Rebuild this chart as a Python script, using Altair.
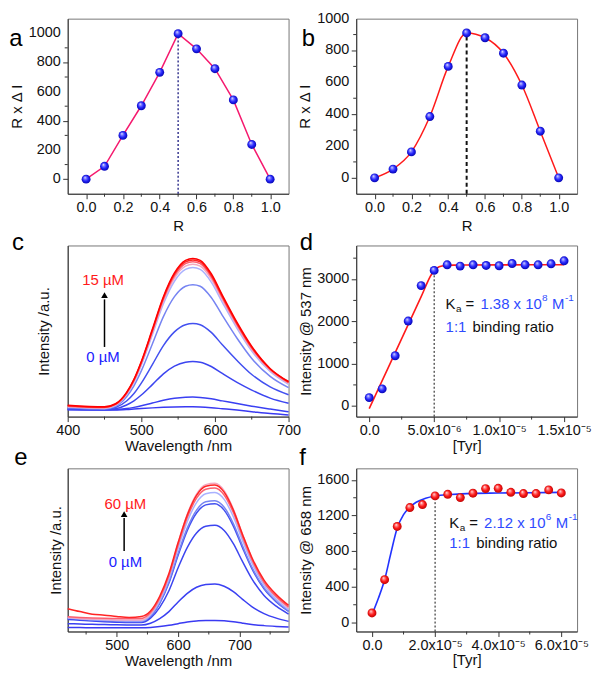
import altair as alt
import pandas as pd

FONT = "Arial"

# ---------------- data ----------------
R_VALUES = [0.0, 0.1, 0.2, 0.3, 0.4, 0.5, 0.6, 0.7, 0.8, 0.9, 1.0]
A_RDI = [0, 88, 300, 503, 732, 997, 893, 757, 543, 238, 0]
B_RDI = [0, 55, 163, 385, 700, 910, 880, 783, 583, 293, 0]

C_WL = [400, 450, 465, 480, 490, 500, 515, 530, 545, 560, 570, 580, 595, 610, 630, 650, 675, 700]
C_CURVES = [
    [4.0, 3.8, 3.9, 4.1, 4.4, 4.7, 5.1, 5.4, 5.6, 5.7, 5.7, 5.6, 5.2, 4.6, 3.8, 2.9, 1.8, 1.0],
    [4.1, 4.0, 4.2, 4.7, 5.4, 6.3, 7.9, 9.5, 10.7, 11.3, 11.4, 11.2, 10.4, 9.2, 7.6, 6.1, 4.4, 2.8],
    [4.3, 4.0, 4.6, 6.8, 9.2, 12.6, 18.7, 25.0, 29.5, 31.8, 32.2, 31.8, 29.3, 25.2, 20.0, 15.5, 10.8, 7.8],
    [4.7, 4.2, 5.3, 9.1, 13.5, 19.6, 30.4, 41.5, 49.5, 53.7, 54.4, 53.7, 49.2, 42.0, 32.8, 24.6, 17.4, 12.8],
    [5.2, 4.5, 6.0, 11.6, 18.0, 26.7, 42.4, 58.4, 70.1, 76.2, 77.1, 76.2, 69.6, 59.2, 45.8, 34.0, 23.5, 16.9],
    [5.6, 4.8, 6.5, 12.9, 20.1, 30.0, 47.8, 65.9, 79.1, 86.0, 87.1, 86.0, 78.6, 66.8, 51.6, 38.3, 26.4, 18.9],
    [5.8, 5.0, 6.8, 13.2, 20.6, 30.7, 48.8, 67.4, 80.9, 87.9, 89.0, 87.9, 80.3, 68.3, 52.8, 39.2, 27.0, 19.4],
    [6.1, 5.3, 7.1, 13.6, 21.1, 31.4, 49.8, 68.6, 82.2, 89.4, 90.5, 89.4, 81.7, 69.5, 53.8, 40.0, 27.6, 19.9],
    [6.4, 5.5, 7.3, 13.9, 21.5, 31.8, 50.4, 69.4, 83.2, 90.4, 91.5, 90.4, 82.6, 70.3, 54.4, 40.5, 28.0, 20.2],
    [6.6, 5.7, 7.5, 14.2, 21.8, 32.2, 51.0, 70.1, 84.0, 91.3, 92.4, 91.3, 83.5, 71.0, 55.0, 41.0, 28.0, 20.5],
]
C_COLORS = ["#3a3af2", "#3a40f2", "#3c45f0", "#4250f0", "#7684f2", "#aab2ff",
            "#f4a8c0", "#fb6070", "#ff2424", "#ff0000"]
C_WIDTHS = [1.5, 1.5, 1.5, 1.5, 1.5, 1.5, 1.8, 1.8, 2.0, 2.2]

E_WL = [420, 440, 460, 480, 500, 520, 540, 555, 570, 585, 600, 615, 630, 645, 660,
        675, 690, 705, 720, 740, 760, 780]
E_CURVES = [
    [2.4, 2.4, 2.3, 2.3, 2.3, 2.3, 2.3, 2.5, 3.0, 3.8, 4.8, 5.8, 6.4, 6.8, 6.8, 6.6, 6.0, 5.1, 4.3, 3.6, 3.1, 2.7],
    [4.8, 4.6, 4.4, 4.3, 4.1, 4.0, 4.0, 5.1, 7.9, 12.2, 18.1, 23.4, 27.1, 28.8, 29.1, 27.7, 24.4, 19.7, 15.3, 11.0, 8.2, 6.2],
    [7.4, 6.9, 6.4, 6.0, 5.7, 5.5, 5.5, 8.2, 14.8, 25.0, 39.1, 51.6, 60.4, 64.5, 65.1, 61.9, 53.8, 42.8, 32.4, 22.1, 15.5, 10.7],
    [8.0, 7.4, 6.9, 6.5, 6.2, 6.0, 6.0, 9.3, 17.3, 29.7, 46.7, 62.0, 72.6, 77.6, 78.3, 74.4, 64.6, 51.2, 38.7, 26.1, 18.1, 12.3],
    [8.2, 7.6, 7.1, 6.7, 6.4, 6.2, 6.2, 9.5, 17.7, 30.5, 47.9, 63.5, 74.4, 79.5, 80.2, 76.2, 66.2, 52.5, 39.6, 26.8, 18.6, 12.6],
    [8.4, 7.8, 7.3, 7.0, 6.8, 6.6, 6.6, 10.1, 18.9, 32.4, 50.9, 67.4, 79.0, 84.4, 85.2, 81.0, 70.3, 55.7, 42.1, 28.5, 19.8, 13.4],
    [8.6, 8.0, 7.6, 7.3, 7.1, 7.0, 7.0, 10.8, 20.1, 34.5, 54.2, 71.9, 84.2, 90.0, 90.8, 86.3, 75.0, 59.4, 44.9, 30.3, 21.1, 14.3],
    [9.0, 8.6, 8.3, 8.1, 8.0, 7.9, 8.0, 11.6, 20.5, 34.2, 53.0, 69.9, 81.7, 87.2, 88.0, 83.7, 72.9, 58.0, 44.2, 30.2, 21.4, 15.0],
    [14.0, 12.2, 10.6, 10.0, 9.2, 8.6, 9.2, 12.6, 21.6, 35.5, 54.5, 71.5, 83.4, 89.0, 89.8, 85.4, 74.5, 59.5, 45.5, 31.5, 22.6, 16.0],
]
E_COLORS = ["#3636f0", "#3a3af2", "#3c40f0", "#7480f0", "#8090f5", "#c8ccff",
            "#f8b4c8", "#ff5050", "#ff0000"]
E_WIDTHS = [1.5, 1.5, 1.5, 1.5, 1.5, 1.5, 2.0, 1.8, 2.4]

D_TYR = [0, 1e-6, 2e-6, 3e-6, 4e-6, 5e-6, 6e-6, 7e-6, 8e-6, 9e-6, 1e-5,
         1.1e-5, 1.2e-5, 1.3e-5, 1.4e-5, 1.5e-5]
D_INT = [200, 407, 1190, 2012, 2850, 3210, 3343, 3312, 3343, 3327, 3320,
         3374, 3343, 3343, 3366, 3437]
D_FIT_X = [0, 1e-6, 2e-6, 3e-6, 4e-6, 4.8e-6, 5.2e-6, 5.6e-6, 6.5e-6, 1e-5, 1.5e-5]
D_FIT_Y = [-60, 600, 1265, 1925, 2590, 3120, 3265, 3315, 3335, 3340, 3345]

F_TYR = [0, 4e-6, 8e-6, 1.2e-5, 1.6e-5, 2e-5, 2.4e-5, 2.8e-5, 3.2e-5, 3.6e-5,
         4e-5, 4.4e-5, 4.8e-5, 5.2e-5, 5.6e-5, 6e-5]
F_INT = [108, 481, 1078, 1290, 1324, 1421, 1439, 1402, 1451, 1503, 1506,
         1461, 1447, 1447, 1488, 1454]
F_FIT_X = [0, 2e-6, 4e-6, 6e-6, 8e-6, 1e-5, 1.2e-5, 1.4e-5, 1.7e-5, 2e-5,
           2.5e-5, 3e-5, 4e-5, 6e-5]
F_FIT_Y = [90, 270, 480, 780, 1060, 1210, 1295, 1350, 1395, 1420, 1437, 1446, 1453, 1460]

# ---------------- styling ----------------
W = 222
H1, H2, H3 = 176, 172, 164
TICK = 5
MINOR = 3
LABEL_SIZE = 14.5

BLUE_BALL = {"gradient": "radial", "x1": 0.36, "y1": 0.3, "r1": 0.0,
             "x2": 0.5, "y2": 0.5, "r2": 0.56,
             "stops": [{"offset": 0.0, "color": "#ffffff"},
                       {"offset": 0.22, "color": "#8a8aff"},
                       {"offset": 0.55, "color": "#2626ff"},
                       {"offset": 1.0, "color": "#0000a0"}]}
RED_BALL = {"gradient": "radial", "x1": 0.36, "y1": 0.3, "r1": 0.0,
            "x2": 0.5, "y2": 0.5, "r2": 0.56,
            "stops": [{"offset": 0.0, "color": "#ffffff"},
                      {"offset": 0.22, "color": "#ff8a8a"},
                      {"offset": 0.55, "color": "#ff1a1a"},
                      {"offset": 1.0, "color": "#b00000"}]}

ONE = pd.DataFrame({"k": [0]})


def xaxis(major, title, labels=None, **kw):
    extra = {}
    if labels is not None:
        eps = (max(major) - min(major)) * 1e-4
        expr = "''"
        for v, lab in reversed(list(zip(major, labels))):
            expr = f"abs(datum.value - ({v!r})) < {eps!r} ? '{lab}' : {expr}"
        extra["labelExpr"] = expr
    return alt.Axis(values=major, title=title, labelOverlap=False, labelFlush=False,
                    labelBound=False, tickSize=TICK, **extra, **kw)


def yaxis(major, title, pad):
    return alt.Axis(values=major, title=title, labels=False, tickSize=TICK, titlePadding=pad)


def ylabels(field, major, ys):
    df = pd.DataFrame({field: major, "lab": [str(v) for v in major]})
    return alt.Chart(df).mark_text(align="right", baseline="middle", fontSize=LABEL_SIZE,
                                   font=FONT, color="#111", dx=-(TICK + 2)).encode(
        y=alt.Y(f"{field}:Q", scale=ys), x=alt.value(0), text="lab:N")


def minor_x(field, vals, xs, height):
    df = pd.DataFrame({field: vals})
    return alt.Chart(df).mark_rule(color="#333", strokeWidth=1).encode(
        x=alt.X(f"{field}:Q", scale=xs), y=alt.value(height), y2=alt.value(height + MINOR))


def minor_y(field, vals, ys):
    df = pd.DataFrame({field: vals})
    return alt.Chart(df).mark_rule(color="#333", strokeWidth=1).encode(
        y=alt.Y(f"{field}:Q", scale=ys), x=alt.value(0), x2=alt.value(-MINOR))


def letter(ch, x, y):
    return alt.Chart(ONE).mark_text(text=ch, fontSize=24, font=FONT, align="center",
                                    baseline="middle", color="#000").encode(
        x=alt.value(x), y=alt.value(y))


def balls(df, x, y, xs, ys, fill):
    return alt.Chart(df).mark_point(filled=True, shape="circle", size=80, fill=fill,
                                    strokeWidth=0, opacity=1).encode(
        x=alt.X(x, scale=xs), y=alt.Y(y, scale=ys))


# ---------------- panels a, b ----------------
def job_panel(vals, line_color, interp, rule_color, rule_dash, rule_w, ydom, ch, lx, ly):
    df = pd.DataFrame({"R": R_VALUES, "v": vals})
    xs = alt.Scale(domain=[-0.1, 1.1], nice=False, zero=False)
    ys = alt.Scale(domain=ydom, nice=False, zero=False)
    ymajor = [0, 200, 400, 600, 800, 1000]
    ax = xaxis([0.0, 0.2, 0.4, 0.6, 0.8, 1.0], "R", format=".1f", titlePadding=4)
    ay = yaxis(ymajor, "R x \u0394 I", 38)
    peak = max(vals)
    rpeak = R_VALUES[vals.index(peak)]
    line = alt.Chart(df).mark_line(color=line_color, strokeWidth=1.5, interpolate=interp).encode(
        x=alt.X("R:Q", scale=xs, axis=ax), y=alt.Y("v:Q", scale=ys, axis=ay))
    rule = alt.Chart(ONE).mark_rule(color=rule_color, strokeDash=rule_dash, strokeWidth=rule_w).encode(
        x=alt.datum(rpeak), y=alt.datum(ydom[0]), y2=alt.datum(peak))
    pts = balls(df, "R:Q", "v:Q", xs, ys, BLUE_BALL)
    mx = minor_x("R", [0.1, 0.3, 0.5, 0.7, 0.9], xs, H1)
    my = minor_y("v", [100, 300, 500, 700, 900], ys)
    yl = ylabels("v", ymajor, ys)
    return alt.layer(line, mx, my, yl, rule, pts, letter(ch, lx, ly)).properties(width=W, height=H1)


pa = job_panel(A_RDI, "#f5196e", "linear", "#1a1a80", [2, 2], 1.3, [-100, 1100], "a", -52, 20)
pb = job_panel(B_RDI, "#ff1a1a", "monotone", "#111111", [4, 3], 2.0, [-100, 1000], "b", -48, 20)


# ---------------- spectra panels ----------------
def spectra_panel(wls, curves, colors, widths, xdom, xmajor, xminor, ytpad, height,
                  top_lab, arrow_x, arrow_lo, arrow_hi, top_y, bot_y, lab_x, ch, lx, ly):
    rows = []
    ids = []
    for i, cv in enumerate(curves):
        k = f"c{i:02d}"
        ids.append(k)
        for w, v in zip(wls, cv):
            rows.append({"wl": w, "I": v, "k": k})
    df = pd.DataFrame(rows)
    xs = alt.Scale(domain=xdom, nice=False, zero=False)
    ys = alt.Scale(domain=[0, 100], nice=False, zero=False)
    ax = xaxis(xmajor, "Wavelength /nm", format="d", titlePadding=2)
    ay = alt.Axis(ticks=False, labels=False, title="Intensity /a.u.", titlePadding=ytpad)
    lines = alt.Chart(df).mark_line(interpolate="monotone").encode(
        x=alt.X("wl:Q", scale=xs, axis=ax), y=alt.Y("I:Q", scale=ys, axis=ay),
        color=alt.Color("k:N", scale=alt.Scale(domain=ids, range=colors), legend=None),
        strokeWidth=alt.StrokeWidth("k:N", scale=alt.Scale(domain=ids, range=widths), legend=None))
    mx = minor_x("wl", xminor, xs, height)
    shaft = alt.Chart(ONE).mark_rule(color="#000", strokeWidth=1.5).encode(
        x=alt.datum(arrow_x), y=alt.datum(arrow_lo), y2=alt.datum(arrow_hi - 2.5))
    head = alt.Chart(ONE).mark_point(shape="triangle-up", filled=True, size=45, color="#000",
                                     opacity=1).encode(x=alt.datum(arrow_x), y=alt.datum(arrow_hi))
    t1 = alt.Chart(ONE).mark_text(text=top_lab, fontSize=15, font=FONT, color="#ff1a1a",
                                  align="center", baseline="middle").encode(
        x=alt.datum(lab_x), y=alt.datum(top_y))
    t2 = alt.Chart(ONE).mark_text(text="0 \u00b5M", fontSize=15, font=FONT, color="#2020ff",
                                  align="center", baseline="middle").encode(
        x=alt.datum(lab_x), y=alt.datum(bot_y))
    return alt.layer(lines, mx, shaft, head, t1, t2, letter(ch, lx, ly)).properties(
        width=W, height=height)


pc = spectra_panel(C_WL, C_CURVES, C_COLORS, C_WIDTHS, [400, 700], [400, 500, 600, 700],
                   [450, 550, 650], 16, H2, "15 \u00b5M", 450, 40.7, 71.0, 80.0, 35.0, 448,
                   "c", -50, -2)
pe = spectra_panel(E_WL, E_CURVES, E_COLORS, E_WIDTHS, [420, 780], [500, 600, 700],
                   [450, 550, 650, 750], 4, H3, "60 \u00b5M", 512, 49.3, 72.0, 78.3, 42.3, 514,
                   "e", -47, -10)


# ---------------- titration panels ----------------
def ka_block(x, y1, y2, mant, expo):
    blk = "#111111"
    blu = "#2e4bff"
    parts = [
        ("K", 0, 0, 15, blk),
        ("a", 10.5, 5, 10, blk),
        ("=", 20, 0, 15, blk),
        (mant, 35, 0, 15, blu),
        (expo, 97, -6, 10, blu),
        ("M", 107, 0, 15, blu),
        ("-1", 120, -6, 10, blu),
    ]
    layers = []
    for txt, dx, dy, fs, col in parts:
        layers.append(alt.Chart(ONE).mark_text(text=txt, fontSize=fs, font=FONT, color=col,
                                               align="left", baseline="middle", dx=dx, dy=dy).encode(
            x=alt.datum(x), y=alt.datum(y1)))
    layers.append(alt.Chart(ONE).mark_text(text="1:1", fontSize=15, font=FONT, color=blu,
                                           align="left", baseline="middle").encode(
        x=alt.datum(x), y=alt.datum(y2)))
    layers.append(alt.Chart(ONE).mark_text(text="binding ratio", fontSize=15, font=FONT, color=blk,
                                           align="left", baseline="middle", dx=27).encode(
        x=alt.datum(x), y=alt.datum(y2)))
    return layers


def titration_panel(tx, ty, fx, fy, xdom, ydom, xmajor, xlabels, xminor, ymajor, yminor,
                    ytitle, fit_color, ball, xtpad, height, ka_x, ka_y1, ka_y2, mant, expo,
                    vline_x, vline_top, ch, lx, ly):
    df = pd.DataFrame({"x": tx, "y": ty})
    dfit = pd.DataFrame({"x": fx, "y": fy})
    xs = alt.Scale(domain=xdom, nice=False, zero=False)
    ys = alt.Scale(domain=ydom, nice=False, zero=False)
    ax = xaxis(xmajor, "[Tyr]", labels=xlabels, titlePadding=xtpad)
    ay = yaxis(ymajor, ytitle, 37)
    fit = alt.Chart(dfit).mark_line(color=fit_color, strokeWidth=1.6, interpolate="monotone").encode(
        x=alt.X("x:Q", scale=xs, axis=ax), y=alt.Y("y:Q", scale=ys, axis=ay))
    mx = minor_x("x", xminor, xs, height)
    my = minor_y("y", yminor, ys)
    yl = ylabels("y", ymajor, ys)
    rule = alt.Chart(ONE).mark_rule(color="#111", strokeDash=[2, 2], strokeWidth=1).encode(
        x=alt.datum(vline_x), y=alt.datum(ydom[0]), y2=alt.datum(vline_top))
    pts = balls(df, "x:Q", "y:Q", xs, ys, ball)
    layers = [fit, mx, my, yl, rule, pts] + ka_block(ka_x, ka_y1, ka_y2, mant, expo) + [letter(ch, lx, ly)]
    return alt.layer(*layers).properties(width=W, height=height)


pd_ = titration_panel(D_TYR, D_INT, D_FIT_X, D_FIT_Y, [-1e-6, 1.6e-5], [-250, 3800],
                      [0, 5e-6, 1e-5, 1.5e-5],
                      ["0.0", "5.0x10\u207b\u2076", "1.0x10\u207b\u2075", "1.5x10\u207b\u2075"],
                      [2.5e-6, 7.5e-6, 1.25e-5],
                      [0, 1000, 2000, 3000], [500, 1500, 2500, 3500],
                      "Intensity @ 537 nm", "#ff1a1a", BLUE_BALL, 2, H2,
                      5.88e-6, 2413, 1879, "1.38 x 10", "8",
                      D_TYR[5], D_INT[5], "d", -50, -2)
pf = titration_panel(F_TYR, F_INT, F_FIT_X, F_FIT_Y, [-5e-6, 6.5e-5], [-100, 1730],
                     [0, 2e-5, 4e-5, 6e-5],
                     ["0.0", "2.0x10\u207b\u2075", "4.0x10\u207b\u2075", "6.0x10\u207b\u2075"],
                     [1e-5, 3e-5, 5e-5],
                     [0, 400, 800, 1200, 1600], [200, 600, 1000, 1400],
                     "Intensity @ 658 nm", "#2233ff", RED_BALL, 1, H3,
                     2.45e-5, 1114, 890, "2.12 x 10", "6",
                     F_TYR[5], F_INT[5], "f", -54, -10)

chart = alt.concat(pa, pb, pc, pd_, pe, pf, columns=2,
                   spacing={"row": 52, "column": 68}, bounds="flush", align="each").properties(
    padding=0
).configure(font=FONT).configure_axis(
    labelFont=FONT, titleFont=FONT, labelFontSize=LABEL_SIZE, titleFontSize=15,
    titleFontWeight="normal", labelColor="#111", titleColor="#111",
    domainColor="#333", tickColor="#333", grid=False, labelPadding=2,
    labelOverlap=False, labelBound=False
).configure_view(stroke="#777", strokeWidth=1)

chart.save("out.html", embed_options={"renderer": "svg", "actions": False})
